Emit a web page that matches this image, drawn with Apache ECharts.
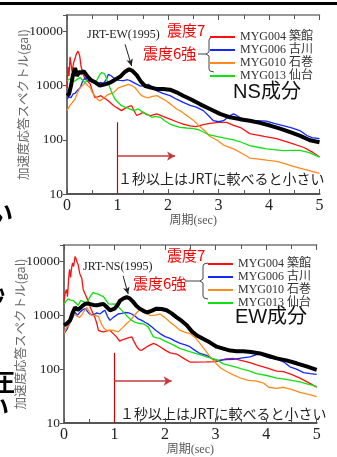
<!DOCTYPE html>
<html>
<head>
<meta charset="utf-8">
<script src="https://cdn.jsdelivr.net/npm/echarts@6/dist/echarts.min.js"></script>
<style>
  html, body { margin: 0; padding: 0; background: #fff; }
  #chart { width: 337px; height: 457px; }
</style>
</head>
<body>
<div id="chart"></div>
<script>
// 周期(sec), 加速度応答スペクトル(gal) の組 [t, gal]
// ---- NS成分 ----
const nsJRT = [[0,650],[0.04,700],[0.08,1000],[0.12,1600],[0.16,2100],[0.2,1500],[0.24,1800],[0.28,1700],[0.33,1850],[0.4,1500],[0.48,1250],[0.56,1150],[0.65,1000],[0.75,1050],[0.85,1130],[0.95,1280],[1.05,1450],[1.15,1800],[1.23,2000],[1.3,1850],[1.38,1550],[1.46,1200],[1.55,980],[1.66,920],[1.78,860],[1.9,860],[2.04,840],[2.17,750],[2.3,650],[2.44,565],[2.63,455],[2.83,370],[3.03,300],[3.23,260],[3.42,240],[3.62,225],[3.82,205],[4.02,183],[4.22,160],[4.42,138],[4.62,118],[4.81,98],[5,90]]
const nsMYG004 = [[0,900],[0.02,2200],[0.04,1500],[0.06,3400],[0.08,2500],[0.1,1800],[0.13,2600],[0.16,3200],[0.19,3900],[0.22,4300],[0.25,3600],[0.28,2200],[0.32,1600],[0.36,1320],[0.41,1200],[0.46,1070],[0.5,800],[0.55,600],[0.61,620],[0.67,650],[0.72,600],[0.77,565],[0.85,490],[0.92,430],[0.98,395],[1.08,345],[1.18,395],[1.28,425],[1.33,340],[1.38,280],[1.45,300],[1.51,320],[1.58,290],[1.65,280],[1.78,300],[1.9,270],[2.04,240],[2.17,215],[2.3,195],[2.44,180],[2.55,175],[2.7,190],[2.83,200],[3.0,210],[3.16,210],[3.3,185],[3.45,165],[3.62,130],[3.9,115],[4.15,105],[4.42,88],[4.69,72],[4.85,60],[5,48]]
const nsMYG006 = [[0,565],[0.04,620],[0.08,600],[0.12,700],[0.16,720],[0.2,800],[0.26,910],[0.31,1200],[0.36,1400],[0.42,1250],[0.52,1130],[0.6,1050],[0.66,1150],[0.72,1100],[0.78,1300],[0.82,1620],[0.88,1500],[0.95,1320],[1.03,1250],[1.12,1230],[1.2,1280],[1.25,1230],[1.35,1100],[1.45,980],[1.53,1000],[1.61,1050],[1.7,920],[1.78,800],[1.9,720],[2.04,650],[2.17,560],[2.3,490],[2.44,430],[2.56,400],[2.7,345],[2.8,280],[2.9,225],[3.0,215],[3.1,225],[3.2,270],[3.3,300],[3.42,260],[3.56,225],[3.75,225],[3.95,220],[4.1,200],[4.28,183],[4.45,165],[4.61,148],[4.75,120],[4.85,110],[5,105]]
const nsMYG010 = [[0,345],[0.05,420],[0.1,480],[0.16,565],[0.21,750],[0.26,910],[0.31,1000],[0.36,1130],[0.41,1000],[0.46,910],[0.5,750],[0.55,650],[0.6,560],[0.65,520],[0.72,580],[0.78,650],[0.85,700],[0.92,740],[1.02,910],[1.12,980],[1.21,1050],[1.28,1000],[1.35,910],[1.42,750],[1.48,650],[1.55,610],[1.61,600],[1.7,630],[1.78,650],[1.88,580],[1.97,520],[2.07,440],[2.17,370],[2.27,330],[2.37,280],[2.5,230],[2.63,175],[2.75,140],[2.83,115],[2.96,100],[3.1,80],[3.3,68],[3.45,57],[3.62,46],[3.8,44],[3.95,42],[4.15,40],[4.28,37],[4.45,33],[4.61,30],[4.8,27],[5,24]]
const nsMYG013 = [[0,1230],[0.05,1320],[0.1,1250],[0.15,1200],[0.2,1300],[0.26,1400],[0.31,1250],[0.36,1130],[0.41,1300],[0.46,1400],[0.51,1250],[0.55,1130],[0.6,1300],[0.65,1600],[0.69,1740],[0.75,1620],[0.8,1200],[0.85,910],[0.9,700],[0.95,565],[1.02,480],[1.08,425],[1.15,400],[1.22,380],[1.32,345],[1.41,370],[1.51,320],[1.6,290],[1.68,260],[1.76,270],[1.85,260],[1.95,220],[2.04,195],[2.14,180],[2.24,170],[2.37,165],[2.51,160],[2.63,150],[2.8,125],[2.96,115],[3.1,108],[3.3,100],[3.45,90],[3.62,78],[3.8,72],[3.95,68],[4.1,66],[4.28,63],[4.45,64],[4.61,64],[4.8,58],[5,48]]
// ---- EW成分 ----
const ewJRT = [[0,650],[0.06,700],[0.12,800],[0.17,1100],[0.22,1400],[0.27,1250],[0.32,1350],[0.37,1500],[0.42,1620],[0.5,1620],[0.58,1550],[0.65,1520],[0.72,1580],[0.78,1620],[0.85,1400],[0.91,1230],[1.0,1320],[1.06,1550],[1.11,1860],[1.18,2050],[1.24,2150],[1.3,2050],[1.36,1800],[1.43,1500],[1.5,1320],[1.57,1200],[1.64,1120],[1.73,1200],[1.83,1320],[1.93,1300],[2.03,1230],[2.13,1080],[2.23,910],[2.33,780],[2.43,650],[2.53,500],[2.63,420],[2.76,360],[2.89,310],[3.02,260],[3.15,240],[3.29,220],[3.42,215],[3.55,215],[3.7,208],[3.88,195],[4.05,175],[4.21,158],[4.4,145],[4.6,128],[4.8,112],[5,97]]
const ewMYG004 = [[0,1800],[0.02,2500],[0.05,3000],[0.07,2200],[0.09,4500],[0.11,7100],[0.13,5000],[0.15,7500],[0.17,9300],[0.19,8000],[0.22,12300],[0.24,11000],[0.26,9500],[0.28,8700],[0.31,6000],[0.33,5350],[0.35,4900],[0.38,3000],[0.42,2450],[0.47,1900],[0.52,1400],[0.57,1100],[0.61,910],[0.65,700],[0.68,520],[0.73,500],[0.78,490],[0.85,510],[0.91,520],[0.98,450],[1.04,395],[1.1,330],[1.14,345],[1.24,370],[1.34,395],[1.39,320],[1.44,260],[1.5,225],[1.54,225],[1.64,260],[1.77,300],[1.84,280],[1.9,260],[2.0,225],[2.1,200],[2.23,190],[2.36,160],[2.49,135],[2.6,135],[2.82,136],[3.02,138],[3.2,155],[3.35,158],[3.5,145],[3.68,132],[3.81,120],[4.01,105],[4.21,92],[4.34,90],[4.5,80],[4.67,68],[4.84,56],[5,46]]
const ewMYG006 = [[0,455],[0.06,550],[0.12,740],[0.17,900],[0.22,1120],[0.27,1000],[0.32,1150],[0.37,1250],[0.42,1320],[0.47,1150],[0.51,1050],[0.58,1000],[0.65,1100],[0.71,1050],[0.76,1150],[0.81,1230],[0.86,950],[0.91,800],[0.97,900],[1.07,1050],[1.14,1080],[1.21,1120],[1.28,1100],[1.34,1050],[1.41,950],[1.47,850],[1.54,800],[1.6,740],[1.67,680],[1.74,600],[1.82,520],[1.9,455],[2.0,400],[2.1,370],[2.2,330],[2.3,300],[2.4,280],[2.49,260],[2.6,220],[2.69,195],[2.82,180],[2.96,150],[3.05,145],[3.2,150],[3.35,152],[3.5,160],[3.68,168],[3.81,185],[3.88,190],[3.95,175],[4.08,160],[4.21,155],[4.35,135],[4.47,110],[4.6,100],[4.74,86],[4.87,82],[5,80]]
const ewMYG010 = [[0,455],[0.05,600],[0.1,650],[0.15,910],[0.2,1050],[0.22,1120],[0.27,950],[0.31,910],[0.35,1000],[0.38,1120],[0.45,1400],[0.5,1150],[0.55,980],[0.62,1000],[0.68,950],[0.75,650],[0.8,560],[0.85,520],[0.92,530],[0.98,520],[1.07,490],[1.17,600],[1.24,700],[1.31,800],[1.38,950],[1.44,1120],[1.5,1250],[1.57,1320],[1.63,1150],[1.7,980],[1.8,1000],[1.9,1050],[2.0,900],[2.1,740],[2.2,620],[2.3,520],[2.4,480],[2.49,455],[2.6,380],[2.69,300],[2.8,220],[2.9,165],[3.0,130],[3.1,105],[3.2,92],[3.35,78],[3.48,69],[3.65,62],[3.81,60],[3.95,55],[4.05,46],[4.2,44],[4.34,46],[4.5,42],[4.67,37],[4.84,34],[5,31]]
const ewMYG013 = [[0,1620],[0.04,1800],[0.08,2000],[0.13,1900],[0.18,1860],[0.23,1700],[0.28,1520],[0.33,1860],[0.38,1800],[0.43,1700],[0.48,1900],[0.53,2300],[0.58,2630],[0.63,2500],[0.68,2450],[0.73,2300],[0.78,2200],[0.83,1900],[0.88,1620],[0.95,1600],[1.01,1620],[1.06,1500],[1.11,1320],[1.19,1100],[1.27,910],[1.34,800],[1.4,740],[1.5,700],[1.57,690],[1.62,650],[1.67,600],[1.72,480],[1.77,395],[1.84,380],[1.9,370],[2.0,330],[2.1,300],[2.2,270],[2.3,240],[2.4,225],[2.49,210],[2.6,195],[2.69,185],[2.85,165],[3.02,150],[3.15,125],[3.35,112],[3.5,102],[3.68,92],[3.81,82],[4.01,76],[4.21,68],[4.34,66],[4.5,62],[4.67,58],[4.84,52],[5,48]]

const stationNames = ['MYG004 築館', 'MYG006 古川', 'MYG010 石巻', 'MYG013 仙台']
const stationColors = ['#ff1010', '#1428ff', '#ff8a1c', '#10e010']

const serif = '"Liberation Serif", "Times New Roman", serif'
const jp = '"Noto Sans CJK JP", sans-serif'

const chart = echarts.init(document.getElementById('chart'))

function logLabel(v) {
  const p = Math.log10(v)
  return Math.abs(p - Math.round(p)) < 1e-6 ? String(Math.round(v)) : ''
}

function makeX(gridIndex, pos) {
  const bottom = pos === 'bottom'
  return {
    gridIndex: gridIndex,
    type: 'value',
    position: pos,
    min: 0,
    max: 5,
    interval: 1,
    axisLine: { show: true, onZero: false, lineStyle: { color: bottom ? '#555' : '#777', width: bottom ? 2 : 1.5 } },
    axisTick: { show: true, inside: true, length: 5, lineStyle: { color: '#555', width: 1 } },
    minorTick: { show: true, splitNumber: 2, length: 4, lineStyle: { color: '#555', width: 1 } },
    splitLine: { show: false },
    axisLabel: { show: bottom, fontFamily: serif, fontSize: 16, color: '#222', margin: 4 },
    name: bottom ? '周期(sec)' : '',
    nameLocation: 'middle',
    nameGap: 21,
    nameMoveOverlap: false,
    nameTextStyle: { fontFamily: serif + ', ' + jp, fontSize: 12, color: '#555' }
  }
}

function makeY(gridIndex, pos) {
  const left = pos === 'left'
  return {
    gridIndex: gridIndex,
    type: 'log',
    logBase: 10,
    position: pos,
    min: 10,
    max: 20000,
    axisLine: { show: true, lineStyle: { color: left ? '#555' : '#777', width: left ? 2 : 1.5 } },
    axisTick: { show: true, inside: !left, length: 4, lineStyle: { color: '#555', width: 1 } },
    minorTick: { show: false },
    splitLine: { show: false },
    axisLabel: { show: left, fontFamily: serif, fontSize: 13.5, color: '#222', margin: 4, formatter: logLabel },
    name: left ? '加速度応答スペクトル(gal)' : '',
    nameLocation: 'middle',
    nameRotate: 90,
    nameGap: 37,
    nameMoveOverlap: false,
    nameTextStyle: { fontFamily: jp, fontSize: 12.5, color: '#666' }
  }
}

function stationSeries(data, i, g) {
  return {
    name: stationNames[i],
    type: 'line',
    xAxisIndex: g * 2,
    yAxisIndex: g * 2,
    data: data,
    showSymbol: false,
    symbol: 'none',
    color: stationColors[i],
    lineStyle: { width: 1.3, color: stationColors[i] },
    z: 2
  }
}

// 注記: 1秒の縦線と右向き矢印、JRTの指示矢印
function noteLines(vTop, vArrow, tArrowEnd, ptrFrom, ptrTo) {
  return {
    silent: true,
    symbol: ['none', 'none'],
    label: { show: false },
    data: [
      [{ coord: [1, vTop], lineStyle: { color: '#d00000', width: 1.2, type: 'solid' } }, { coord: [1, 10] }],
      [{ coord: [1, vArrow], lineStyle: { color: '#c8383c', width: 1.6, type: 'solid' } }, { coord: [tArrowEnd, vArrow], symbol: 'arrow', symbolSize: [7, 8] }],
      [{ coord: ptrFrom, lineStyle: { color: '#222', width: 1, type: 'solid' } }, { coord: ptrTo, symbol: 'arrow', symbolSize: [5, 7] }]
    ]
  }
}

function jrtSeries(name, data, g, note) {
  return {
    name: name,
    type: 'line',
    xAxisIndex: g * 2,
    yAxisIndex: g * 2,
    data: data,
    showSymbol: false,
    symbol: 'none',
    color: '#000',
    lineStyle: { width: 4, color: '#000' },
    z: 3,
    markLine: note
  }
}

function txt(x, y, text, font, fill, align) {
  return { type: 'text', x: x, y: y, silent: true, style: { text: text, font: font, fill: fill, align: align || 'left', verticalAlign: 'middle' } }
}

function bracket(x, y0, y1, ym, x0) {
  return [
    { type: 'polyline', silent: true, shape: { points: [[x + 5, y0], [x + 1, y0 + 1], [x, y0 + 3], [x, ym - 2], [x - 3, ym], [x, ym + 2], [x, y1 - 3], [x + 1, y1 - 1], [x + 5, y1]] }, style: { stroke: '#444', lineWidth: 1, fill: null } },
    { type: 'line', silent: true, shape: { x1: x0, y1: ym, x2: x - 3, y2: ym }, style: { stroke: '#444', lineWidth: 1 } }
  ]
}

chart.setOption({
  backgroundColor: '#fff',
  animation: false,
  grid: [
    { left: 67, top: 15, right: 17.5, bottom: 263 },
    { left: 64, top: 245, right: 20.3, bottom: 33 }
  ],
  xAxis: [makeX(0, 'bottom'), makeX(0, 'top'), makeX(1, 'bottom'), makeX(1, 'top')],
  yAxis: [makeY(0, 'left'), makeY(0, 'right'), makeY(1, 'left'), makeY(1, 'right')],
  legend: [
    {
      left: 205, top: 26, orient: 'vertical', icon: 'rect', itemWidth: 25, itemHeight: 2, itemGap: 1,
      selectedMode: false, data: stationNames,
      textStyle: { fontFamily: serif + ', ' + jp, fontSize: 12, lineHeight: 12, color: '#333', padding: [0, 0, 0, 0] }
    },
    {
      left: 203, top: 253, orient: 'vertical', icon: 'rect', itemWidth: 25, itemHeight: 2, itemGap: 1,
      selectedMode: false, data: stationNames,
      textStyle: { fontFamily: serif + ', ' + jp, fontSize: 12, lineHeight: 12, color: '#333', padding: [0, 0, 0, 0] }
    }
  ],
  series: [
    stationSeries(nsMYG004, 0, 0),
    stationSeries(nsMYG006, 1, 0),
    stationSeries(nsMYG010, 2, 0),
    stationSeries(nsMYG013, 3, 0),
    jrtSeries('JRT-EW(1995)', nsJRT, 0, noteLines(210, 50, 2.14, [1.15, 5760], [1.28, 2290])),
    stationSeries(ewMYG004, 0, 1),
    stationSeries(ewMYG006, 1, 1),
    stationSeries(ewMYG010, 2, 1),
    stationSeries(ewMYG013, 3, 1),
    jrtSeries('JRT-NS(1995)', ewJRT, 1, noteLines(200, 60, 2.13, [1.17, 5350], [1.27, 2460]))
  ],
  graphic: [
    { type: 'rect', silent: true, shape: { x: 0, y: 2, width: 337, height: 3 }, style: { fill: '#000' } },
    // 左端で切れたスライド本文
    txt(-11, 213, 'い', 'bold 24px ' + jp, '#000'),
    txt(-19, 296, '秒', 'bold 24px ' + jp, '#000'),
    txt(-9, 382, '圧', 'bold 24px ' + jp, '#000'),
    txt(-15, 407, 'い', 'bold 24px ' + jp, '#000'),
    // NS成分
    txt(87, 35, 'JRT-EW(1995)', '12px ' + serif, '#222'),
    txt(167, 30, '震度7', '15px ' + jp, '#ff0000'),
    txt(143, 53, '震度6強', '15px ' + jp, '#ff0000'),
    ...bracket(209, 37, 72, 54, 198),
    txt(267, 92, 'NS成分', '20px "Liberation Sans", ' + jp, '#111', 'center'),
    txt(118, 179, '１秒以上はJRTに較べると小さい', '14px ' + jp, '#222'),
    // EW成分
    txt(83, 267, 'JRT-NS(1995)', '12px ' + serif, '#222'),
    txt(167, 255, '震度7', '15px ' + jp, '#ff0000'),
    txt(133, 283, '震度6強', '15px ' + jp, '#ff0000'),
    ...bracket(203, 263, 299, 281, 185),
    txt(271, 317, 'EW成分', '20px "Liberation Sans", ' + jp, '#111', 'center'),
    txt(120, 414, '１秒以上はJRTに較べると小さい', '14px ' + jp, '#222')
  ]
})
</script>
</body>
</html>
